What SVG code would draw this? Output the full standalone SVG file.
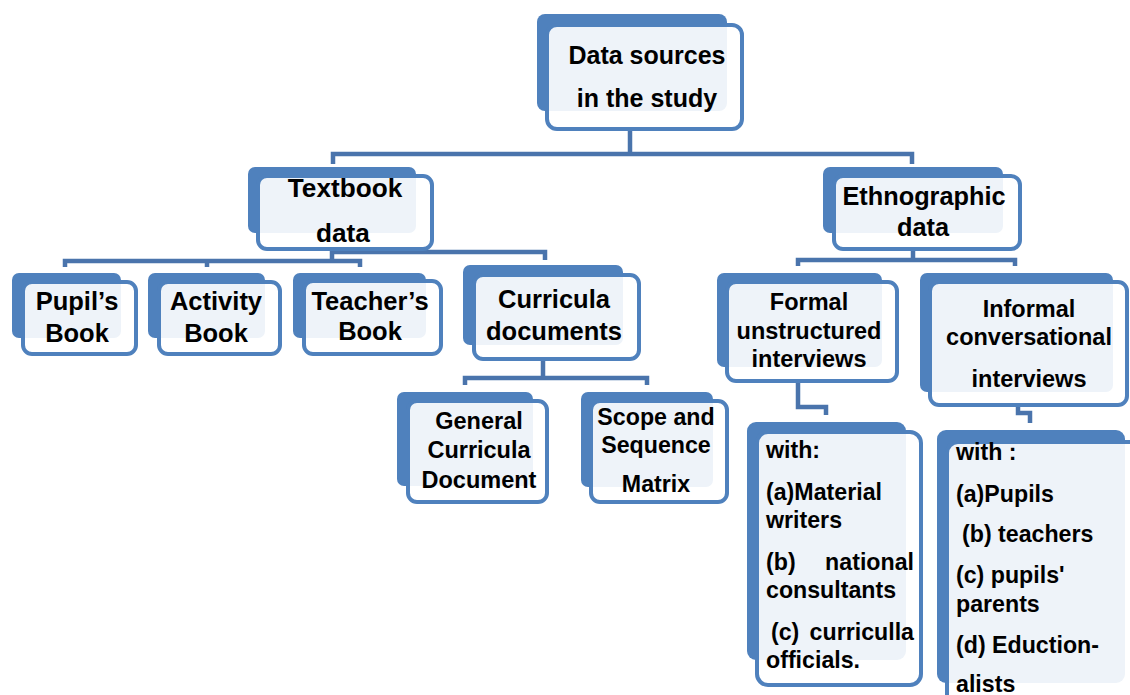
<svg xmlns="http://www.w3.org/2000/svg" width="1130" height="695" viewBox="0 0 1130 695">
<style>
.back{fill:#4F81BD}
.front{fill:#ffffff;fill-opacity:0.9;stroke:#4F81BD;stroke-width:4}
.conn{fill:none;stroke:#4A74AC;stroke-width:4.5}
text{font-family:"Liberation Sans",Arial,sans-serif;font-weight:bold;fill:#000}
.l1{font-size:25px;text-anchor:middle}
.l2{font-size:23.5px;text-anchor:middle}
.b{font-size:25.5px}
.l3{font-size:23.2px}
</style>
<rect x="0" y="0" width="1130" height="695" fill="#ffffff"/>
<g id="connectors">
<path class="conn" d="M630,130 V154 M333,164 V154 H912 V164"/>
<path class="conn" d="M332,251 V259 M330,252 H545 V260 M65,267 V261 H360 V267 M207,261 V267"/>
<path class="conn" d="M543,360 V378 M465,385 V378 H647 V385"/>
<path class="conn" d="M913,250 V260 M798,266 V260 H1015 V266"/>
<path class="conn" d="M798,383 V407 H826 V415"/>
<path class="conn" d="M1018,407 V413 H1030 V423"/>
</g>
<g id="root">
<rect class="back" x="537" y="14" width="190" height="97" rx="8"/>
<rect class="front" x="547" y="25" width="195" height="104" rx="10"/>
<text class="l1" x="647" y="64">Data sources</text>
<text class="l1" x="647" y="107">in the study</text>
</g>
<g id="textbook">
<rect class="back" x="248" y="167" width="168" height="66" rx="7"/>
<rect class="front" x="258" y="176" width="174" height="73" rx="9"/>
<text class="l1" x="345" y="197" style="font-size:26.2px">Textbook</text>
<text class="l1" x="343" y="242" style="font-size:26.2px">data</text>
</g>
<g id="ethnographic">
<rect class="back" x="823" y="167" width="180" height="66" rx="7"/>
<rect class="front" x="834" y="176" width="186" height="73" rx="9"/>
<text class="l1" x="924" y="205" style="font-size:25.3px">Ethnographic</text>
<text class="l1" x="923" y="236" style="font-size:25.3px">data</text>
</g>
<g id="pupils-book">
<rect class="back" x="12" y="273" width="109" height="65" rx="7"/>
<rect class="front" x="23" y="282" width="113" height="72" rx="9"/>
<text class="l2 b" x="77" y="310">Pupil’s</text>
<text class="l2 b" x="77" y="342">Book</text>
</g>
<g id="activity-book">
<rect class="back" x="148" y="273" width="117" height="65" rx="7"/>
<rect class="front" x="159" y="282" width="121" height="72" rx="9"/>
<text class="l2 b" x="216" y="310">Activity</text>
<text class="l2 b" x="216" y="342">Book</text>
</g>
<g id="teachers-book">
<rect class="back" x="293" y="273" width="133" height="65" rx="7"/>
<rect class="front" x="304" y="281" width="137" height="73" rx="9"/>
<text class="l2 b" x="370" y="310">Teacher’s</text>
<text class="l2 b" x="370" y="340">Book</text>
</g>
<g id="curricula-documents">
<rect class="back" x="463" y="265" width="160" height="80" rx="7"/>
<rect class="front" x="474" y="275" width="165" height="84" rx="9"/>
<text class="l2 b" x="554" y="308">Curricula</text>
<text class="l2 b" x="554" y="340">documents</text>
</g>
<g id="general-curricula">
<rect class="back" x="397" y="392" width="136" height="94" rx="7"/>
<rect class="front" x="408" y="401" width="139" height="101" rx="9"/>
<text class="l2" x="479" y="429">General</text>
<text class="l2" x="479" y="458">Curricula</text>
<text class="l2" x="479" y="488">Document</text>
</g>
<g id="scope-sequence">
<rect class="back" x="581" y="392" width="132" height="95" rx="7"/>
<rect class="front" x="591" y="401" width="136" height="101" rx="9"/>
<text class="l2" x="656" y="425" style="font-size:23.2px">Scope and</text>
<text class="l2" x="656" y="453" style="font-size:23.2px">Sequence</text>
<text class="l2" x="656" y="492" style="font-size:23.2px">Matrix</text>
</g>
<g id="formal">
<rect class="back" x="717" y="273" width="165" height="94" rx="7"/>
<rect class="front" x="727" y="282" width="170" height="99" rx="9"/>
<text class="l2" x="809" y="310">Formal</text>
<text class="l2" x="809" y="339">unstructured</text>
<text class="l2" x="809" y="367">interviews</text>
</g>
<g id="informal">
<rect class="back" x="920" y="273" width="193" height="119" rx="7"/>
<rect class="front" x="930" y="282" width="197" height="123" rx="9"/>
<text class="l2" x="1029" y="317">Informal</text>
<text class="l2" x="1029" y="345">conversational</text>
<text class="l2" x="1029" y="387">interviews</text>
</g>
<g id="formal-with">
<rect class="back" x="747" y="422" width="159" height="238" rx="9"/>
<rect class="front" x="757" y="432" width="164" height="253" rx="11"/>
<text class="l3" x="766" y="458">with:</text>
<text class="l3" x="766" y="500">(a)Material</text>
<text class="l3" x="766" y="528">writers</text>
<text class="l3" x="766" y="570">(b)</text>
<text class="l3" x="914" y="570" text-anchor="end">national</text>
<text class="l3" x="766" y="598">consultants</text>
<text class="l3" x="771" y="640">(c)</text>
<text class="l3" x="914" y="640" text-anchor="end">curriculla</text>
<text class="l3" x="766" y="668">officials.</text>
</g>
<g id="informal-with">
<rect class="back" x="937" y="430" width="188" height="253" rx="9"/>
<rect class="front" x="947" y="442" width="200" height="270" rx="11"/>
<text class="l3" x="956" y="460">with :</text>
<text class="l3" x="956" y="502">(a)Pupils</text>
<text class="l3" x="962" y="542">(b) teachers</text>
<text class="l3" x="956" y="583">(c) pupils'</text>
<text class="l3" x="956" y="612">parents</text>
<text class="l3" x="956" y="653">(d) Eduction-</text>
<text class="l3" x="956" y="692">alists</text>
</g>
</svg>
